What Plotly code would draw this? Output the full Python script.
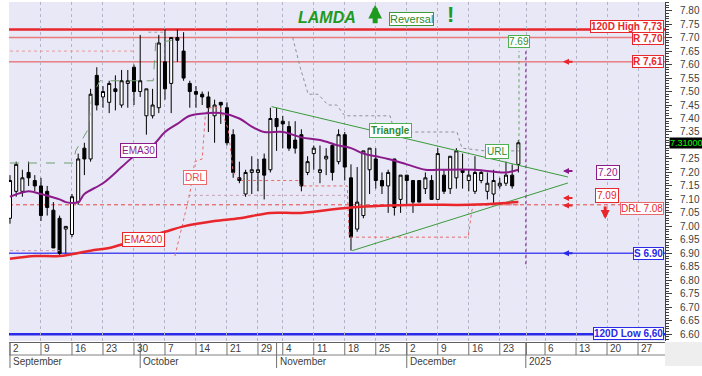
import plotly.graph_objects as go

# ---------------- data ----------------
idx = list(range(83))
opens = [7.03,7.13,7.13,7.20,7.17,7.15,7.13,7.06,7.03,6.99,
         6.97,7.09,7.29,7.25,7.56,7.48,7.46,7.51,7.45,7.53,
         7.59,7.50,7.41,7.41,7.44,7.61,7.53,7.70,7.65,7.53,
         7.50,7.49,7.48,7.41,7.46,7.44,7.34,7.18,7.12,7.20,
         7.20,7.25,7.21,7.40,7.39,7.37,7.32,7.34,7.20,7.27,
         7.20,7.25,7.30,7.24,7.34,7.18,6.99,7.04,7.21,7.25,
         7.17,7.15,7.25,7.10,7.19,7.17,7.17,7.14,7.17,7.10,
         7.19,7.14,7.18,7.21,7.17,7.13,7.17,7.13,7.12,7.15,
         7.16,7.19,7.23]
highs = [7.19,7.24,7.21,7.24,7.19,7.18,7.15,7.09,7.04,7.00,
         7.12,7.27,7.31,7.51,7.59,7.52,7.54,7.56,7.58,7.58,
         7.60,7.71,7.51,7.51,7.71,7.73,7.70,7.73,7.72,7.54,
         7.52,7.50,7.50,7.47,7.46,7.46,7.36,7.24,7.21,7.26,
         7.25,7.27,7.44,7.44,7.41,7.39,7.39,7.36,7.26,7.30,
         7.30,7.29,7.31,7.36,7.35,7.23,7.22,7.28,7.29,7.29,
         7.20,7.21,7.25,7.19,7.19,7.17,7.17,7.20,7.19,7.29,
         7.21,7.26,7.29,7.27,7.21,7.26,7.21,7.20,7.21,7.18,
         7.24,7.23,7.32]
lows = [7.01,7.11,7.11,7.15,7.13,7.02,7.04,6.92,6.89,6.90,
        6.96,7.08,7.19,7.24,7.43,7.44,7.42,7.43,7.44,7.44,
        7.45,7.48,7.34,7.40,7.42,7.47,7.42,7.61,7.54,7.44,
        7.44,7.45,7.35,7.31,7.38,7.30,7.18,7.16,7.11,7.12,
        7.13,7.10,7.20,7.28,7.29,7.28,7.27,7.13,7.19,7.21,
        7.16,7.19,7.17,7.23,7.17,6.91,6.98,7.03,7.12,7.14,
        7.12,7.05,7.04,7.05,7.08,7.05,7.09,7.12,7.10,7.10,
        7.12,7.12,7.14,7.14,7.13,7.12,7.16,7.10,7.08,7.14,
        7.15,7.14,7.20]
closes = [7.17,7.23,7.18,7.18,7.15,7.04,7.07,6.92,6.90,7.00,
          7.11,7.25,7.25,7.49,7.45,7.50,7.53,7.50,7.54,7.54,
          7.50,7.54,7.51,7.45,7.68,7.51,7.70,7.69,7.55,7.50,
          7.49,7.48,7.44,7.45,7.45,7.31,7.20,7.17,7.20,7.21,
          7.21,7.19,7.40,7.37,7.38,7.29,7.29,7.15,7.24,7.29,
          7.21,7.26,7.20,7.34,7.22,6.96,7.09,7.28,7.29,7.17,
          7.15,7.20,7.07,7.19,7.17,7.09,7.09,7.18,7.10,7.27,
          7.13,7.26,7.28,7.20,7.19,7.20,7.20,7.16,7.17,7.16,
          7.19,7.15,7.31]

ema30_x = [0,3,5,8,9,11,12,15,18,20,23,25,27,29,32,34,37,39,41,44,47,50,53,55,57,59,61,64,67,69,75,80,82]
ema30_y = [7.11,7.13,7.12,7.10,7.09,7.09,7.12,7.16,7.22,7.26,7.30,7.35,7.38,7.41,7.42,7.42,7.40,7.37,7.35,
           7.35,7.33,7.32,7.30,7.29,7.27,7.26,7.25,7.23,7.21,7.21,7.21,7.20,7.21]
ema200_x = [0,4,8,13,16,19,25,28,33,37,42,47,55,66,74,82]
ema200_y = [6.88,6.89,6.89,6.91,6.92,6.94,6.98,7.00,7.02,7.03,7.05,7.05,7.07,7.08,7.08,7.09]

url_x = [0,10.2,10.6,12.6,13.2,14.5,23.1,23.5,26.1]
url_y = [7.235,7.235,7.28,7.36,7.48,7.54,7.54,7.68,7.69]
drl_x = [26.6,29.0,29.8,31.0,31.5,32.1,33.9,35.2,36.0,37.1,46.5,46.8,54.4,54.7,73.9,74.5,75.0,82.3]
drl_y = [6.89,7.12,7.24,7.25,7.41,7.44,7.44,7.36,7.20,7.17,7.17,7.15,7.15,6.96,6.96,7.06,7.08,7.08]
trail_x = [45.6,46.8,48.1,49.7,51.3,52.7,54.0,61.3,61.8,62.9,72.1,72.9,76.6,82.1]
trail_y = [7.70,7.59,7.49,7.49,7.45,7.45,7.41,7.41,7.37,7.35,7.35,7.29,7.28,7.28]
tri_up_x, tri_up_y = [42.2, 90.0], [7.444, 7.183]
tri_lo_x, tri_lo_y = [55.2, 90.0], [6.91, 7.161]

levels = {"high120": 7.73, "r1": 7.70, "r2": 7.61, "drl": 7.08, "s1": 6.90, "low120": 6.60}

week_pos = [0,5,10,15,20,25,30,35,40,44,49,54,59,64,69,74,79,83.3,86.3,91.3,96.3,101.3]
week_lbl = ["2","9","16","23","30","7","14","21","29","4","11","18","25","2","9","16","23","","6","13","20","27"]
month_pos = [0,21,43,64,83.2]
month_lbl = ["September","October","November","December","2025"]

price_ticks = [round(6.60 + 0.05 * k, 2) for k in range(25)]
last_price = 7.31

XR = [-0.16, 105.65]
YR = [6.575, 7.832]

FONT = "Liberation Sans, Arial, sans-serif"
RED = "#E8262B"
BLUE = "#2A2AE8"
GREEN = "#2E8B2E"
PURPLE = "#8B1A8B"

fig = go.Figure()

def line(x, y, color, width=1, dash="solid", shape="linear"):
    fig.add_trace(go.Scatter(x=x, y=y, mode="lines", line=dict(color=color, width=width, dash=dash, shape=shape),
                             hoverinfo="skip", showlegend=False))

line([0, 20], [7.65, 7.65], "#E89A9A", 1, "dot")
line([0, 8], [6.91, 6.91], "#D49AB0", 1, "dot")
line([28.7, 54.5], [7.115, 7.115], "#C8A0B4", 1, "dot")
line([22.3, 24.7], [7.72, 7.72], "#A0A0A8", 1, "dot")
line(url_x, url_y, "#6E9E6E", 1, "dash")
line(trail_x, trail_y, "#909098", 1, "dot")
line(drl_x, drl_y, "#E86A6A", 1, "dot")
line([82.1, 82.1], [7.29, 7.65], "#6E9E6E", 1, "dot")
line([83.2, 83.2], [6.86, 7.65], "#A050B0", 1.5, "dot")
line(tri_up_x, tri_up_y, "#3A9A3A", 1)
line(tri_lo_x, tri_lo_y, "#3A9A3A", 1)
line(ema200_x, ema200_y, RED, 2.5, shape="spline")
line(ema30_x, ema30_y, PURPLE, 2, shape="spline")

fig.add_trace(go.Candlestick(
    x=idx, open=opens, high=highs, low=lows, close=closes,
    increasing=dict(line=dict(color="#000000", width=1), fillcolor="#FFFFFF"),
    decreasing=dict(line=dict(color="#000000", width=1), fillcolor="#000000"),
    whiskerwidth=0, showlegend=False, hoverinfo="skip"))

shapes = []
def hline(y, color, width, dash="solid"):
    shapes.append(dict(type="line", xref="paper", yref="y", x0=0, x1=1, y0=y, y1=y,
                       line=dict(color=color, width=width, dash=dash), layer="below"))
hline(levels["high120"], RED, 2.5)
hline(levels["r1"], "#E87C7C", 1.5)
hline(levels["r2"], "#E84848", 1)
hline(levels["drl"], "#E84848", 1, "4px,3px")
hline(levels["s1"], "#4B4BF0", 1.5)
hline(levels["low120"], BLUE, 2.5)

# bottom custom date axis
PH = 339.0
def py(Y):
    return (341 - Y) / PH
shapes.append(dict(type="rect", xref="paper", yref="paper", x0=1.0, x1=1.06, y0=py(366), y1=py(342),
                   fillcolor="#EEEEEE", line=dict(width=0), layer="below"))
shapes.append(dict(type="line", xref="paper", yref="paper", x0=0, x1=1, y0=py(342.5), y1=py(342.5),
                   line=dict(color="#606060", width=1)))
shapes.append(dict(type="line", xref="paper", yref="paper", x0=0, x1=1, y0=py(355), y1=py(355),
                   line=dict(color="#808080", width=1)))
annotations = []
for p, t in zip(week_pos, week_lbl):
    shapes.append(dict(type="line", xref="x", yref="paper", x0=p, x1=p, y0=py(342.5), y1=py(355),
                       line=dict(color="#707070", width=1)))
    if t:
        annotations.append(dict(x=p, y=py(349), xref="x", yref="paper", text=t, showarrow=False,
                                xanchor="left", yanchor="middle", xshift=1,
                                font=dict(family=FONT, size=10, color="#404040")))
for p, t in zip(month_pos, month_lbl):
    shapes.append(dict(type="line", xref="x", yref="paper", x0=p, x1=p, y0=py(342.5), y1=py(368),
                       line=dict(color="#707070", width=1)))
    annotations.append(dict(x=p, y=py(361.5), xref="x", yref="paper", text=t, showarrow=False,
                            xanchor="left", yanchor="middle", xshift=1,
                            font=dict(family=FONT, size=10, color="#404040")))

def box(x, y, text, color, border, size=10, bold=False, xref="x", xanchor="center", bg="#FFFFFF", pad=0):
    annotations.append(dict(x=x, y=y, xref=xref, yref="y", text=("<b>%s</b>" % text) if bold else text,
                            showarrow=False, xanchor=xanchor, yanchor="middle",
                            font=dict(family=FONT, size=size, color=color),
                            bgcolor=bg, bordercolor=border, borderwidth=1, borderpad=pad))

XP = lambda X: (X - 9) / 656.0
box(XP(663.5), 7.743, "120D High 7,73", RED, RED, 10, True, "paper", "right")
box(XP(663.5), 7.698, "R 7,70", RED, RED, 10, True, "paper", "right")
box(XP(663.5), 7.61, "R 7,61", RED, RED, 10, True, "paper", "right")
box(XP(663.5), 7.066, "DRL 7.08", RED, "#E86A6A", 10, False, "paper", "right")
box(XP(663.5), 6.90, "S 6.90", BLUE, BLUE, 10, True, "paper", "right")
box(XP(663.5), 6.602, "120D Low 6,60", BLUE, BLUE, 10, True, "paper", "right")
box(20.8, 7.283, "EMA30", PURPLE, PURPLE, 10, pad=1)
box(21.5, 6.95, "EMA200", RED, RED, 10, pad=1)
box(29.8, 7.183, "DRL", "#E84848", "#E86A6A", 10, pad=1)
box(61.3, 7.354, "Triangle", GREEN, "#4CAF50", 10, True, pad=1)
box(78.5, 7.276, "URL", GREEN, "#4CAF50", 10, pad=1)
box(82.1, 7.684, "7.69", GREEN, "#4CAF50", 10)
box(96.5, 7.20, "7.20", PURPLE, PURPLE, 10, pad=1)
box(96.3, 7.116, "7.09", RED, RED, 10, pad=1)
box(64.7, 7.769, "Reversal", GREEN, "#3A9A3A", 11)

# current price tag on the axis
annotations.append(dict(x=XP(686.5), y=last_price, xref="paper", yref="y", text="7.31000", showarrow=False,
                        xanchor="center", yanchor="middle", font=dict(family=FONT, size=9, color="#00FF00"),
                        bgcolor="#000000", borderpad=0))
# title
annotations.append(dict(x=51.1, y=7.776, xref="x", yref="y", text="<b><i>LAMDA</i></b>", showarrow=False,
                        font=dict(family=FONT, size=16, color="#1E9A1E")))
annotations.append(dict(x=71.0, y=7.785, xref="x", yref="y", text="<b>!</b>", showarrow=False,
                        font=dict(family=FONT, size=22, color="#1E9A1E")))

def arrow(x, y, color, ax=0, ay=0, width=2, size=1.0):
    annotations.append(dict(x=x, y=y, xref="x", yref="y", ax=ax, ay=ay, text="", showarrow=True,
                            arrowhead=2, arrowsize=size, arrowwidth=width, arrowcolor=color))
arrow(58.9, 7.822, "#1E9A1E", 0, 20, 5, 0.55)
arrow(89.2, 7.61, RED, 11, 0, 2, 0.6)
arrow(89.2, 6.90, BLUE, 11, 0, 2, 0.6)
arrow(89.2, 7.205, PURPLE, 11, 0, 2, 0.6)
arrow(89.2, 7.105, RED, 11, 0, 2, 0.6)
arrow(89.2, 7.077, RED, 11, 0, 2, 0.6)
arrow(96.0, 7.027, RED, 0, -14, 3, 0.6)

# tick labels: the one hidden behind the last-price tag is left blank
tick_text = ["" if abs(v - 7.30) < 1e-9 else "%.2f" % v for v in price_ticks]

fig.update_layout(
    width=702, height=376,
    margin=dict(l=9, r=37, t=2, b=35),
    paper_bgcolor="#FFFFFF", plot_bgcolor="#E8E8F6",
    shapes=shapes, annotations=annotations, showlegend=False,
    xaxis=dict(range=XR, rangeslider=dict(visible=False), tickmode="array", tickvals=week_pos,
               showticklabels=False, ticks="", showgrid=True, gridcolor="#B4B4C8", griddash="dot",
               gridwidth=1, zeroline=False, showline=False, fixedrange=True),
    yaxis=dict(range=YR, side="right", tickmode="array", tickvals=price_ticks, ticktext=tick_text,
               ticks="outside", ticklen=6, tickcolor="#404040", showline=True, linecolor="#404040",
               showgrid=False, zeroline=False, ticklabelstandoff=6,
               tickfont=dict(family=FONT, size=10, color="#404040"),
               minor=dict(tickmode="linear", dtick=0.01, tick0=6.6, ticks="outside", ticklen=3,
                          tickcolor="#404040", showgrid=False)),
)

fig.write_html("out.html")
